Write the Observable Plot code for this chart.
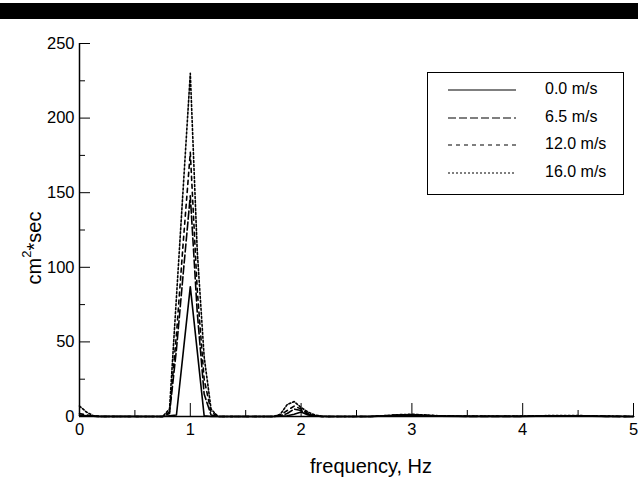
<!DOCTYPE html>
<html><head><meta charset="utf-8">
<script src="https://cdn.jsdelivr.net/npm/d3@7"></script>
<script src="https://cdn.jsdelivr.net/npm/@observablehq/plot@0.6"></script>
<style>
body{margin:0;background:#fff;}
#wrap{position:relative;width:638px;height:480px;overflow:hidden;font-family:"Liberation Sans",Arial,sans-serif;background:#fff;}
#bar{position:absolute;left:0;top:3px;width:638px;height:16px;background:#000;}
#legend{position:absolute;left:427px;top:72px;width:195px;height:121px;border:1.5px solid #000;background:#fff;}
.lrow{position:absolute;left:0;width:195px;height:20px;}
.lrow svg{position:absolute;left:20px;top:0;}
.lrow span{position:absolute;left:117px;top:0px;font-size:16px;color:#000;}
</style></head><body>
<div id="wrap"><div id="bar"></div></div>
<script>
// frequency, Hz
const freq = [0, 0.0625, 0.125, 0.1875, 0.75, 0.8125, 0.875, 0.9375, 1.0, 1.0625, 1.125, 1.1875, 1.25,
  1.75, 1.8125, 1.875, 1.9375, 2.0, 2.0625, 2.125, 2.1875, 2.25,
  2.625, 2.75, 2.875, 3.0, 3.125, 3.25, 3.5, 4.0, 4.25, 4.5, 4.75, 5.0];
// spectral density, cm^2*sec
const v00 = [0.5,0.3,0.2,0.1, 0,0.5,1,44,87,44,0.5,0,0, 0,0.2,0.5,1.5,3,1,0.3,0,0, 0,0.3,0.6,0.8,0.5,0.2,0,0,0.3,0.3,0,0];
const v65 = [1,0.5,0.2,0, 0,2,45,97,148,70,15,1,0, 0,0.5,2,5,4,1.5,0.5,0,0, 0,0.4,0.8,1,0.6,0.3,0.1,0.1,0.4,0.4,0.1,0];
const v12 = [2,1,0.3,0, 0,3,55,118,177,85,25,3,0, 0,1,4,7,5,2,0.6,0,0, 0,0.5,1,1.2,0.8,0.4,0.2,0.2,0.5,0.5,0.2,0];
const v16 = [7,3,0.5,0, 0,5,80,155,230,111,40,5,0, 0,1.5,8,10,6,3,1,0.2,0, 0,0.6,1.2,1.5,1,0.5,0.3,0.3,0.6,0.6,0.3,0];
const seriesNames = ["0.0 m/s", "6.5 m/s", "12.0 m/s", "16.0 m/s"];
const seriesValues = [v00, v65, v12, v16];
const dashes = ["none", "8,3", "4,4", "2,2"];
const xMajor = [0, 1, 2, 3, 4, 5];
const xMinor = [0.5, 1.5, 2.5, 3.5, 4.5];
const yMajor = [0, 50, 100, 150, 200, 250];
const yMinor = [25, 75, 125, 175, 225];

const rows = [];
seriesNames.forEach((s, i) => freq.forEach((f, j) => rows.push({f, v: seriesValues[i][j], s})));

const blank = () => "";
const intFmt = d3.format("d");
const plot = Plot.plot({
  width: 638, height: 480,
  marginLeft: 79, marginRight: 5, marginTop: 43, marginBottom: 64,
  style: {fontFamily: '"Liberation Sans", Arial, sans-serif', fontSize: "16px", color: "#000", background: "transparent", overflow: "visible"},
  x: {domain: [0, 5]},
  y: {domain: [0, 250]},
  marks: [
    Plot.axisX({ticks: xMajor, tickSize: -13, tickFormat: blank, label: null, stroke: "#000"}),
    Plot.axisX({ticks: xMinor, tickSize: -6, tickFormat: blank, label: null}),
    Plot.axisX({ticks: xMajor, tickSize: 0, tickPadding: 7, label: null, fontSize: 16.5, tickFormat: intFmt}),
    Plot.axisY({ticks: yMajor, tickSize: -11, tickFormat: blank, label: null}),
    Plot.axisY({ticks: yMinor, tickSize: -6, tickFormat: blank, label: null}),
    Plot.axisY({ticks: yMajor, tickSize: 0, tickPadding: 5, label: null, fontSize: 16.5, tickFormat: intFmt}),
    ...seriesNames.map((s, i) => Plot.line(rows.filter(d => d.s === s), {
      x: "f", y: "v", stroke: "#000", strokeWidth: 1.6, strokeDasharray: dashes[i]
    })),
    Plot.ruleY([0], {stroke: "#000", strokeWidth: 1.5}),
    Plot.ruleX([0], {stroke: "#000", strokeWidth: 1.5})
  ]
});
plot.style.position = "absolute";
plot.style.left = "0px";
plot.style.top = "0px";
const svg = d3.select(plot);
const yl = svg.append("text")
  .attr("transform", "translate(41,248) rotate(-90)")
  .attr("text-anchor", "middle")
  .attr("font-size", 20)
  .attr("fill", "#000");
yl.append("tspan").text("cm");
yl.append("tspan").attr("font-size", 13).attr("dy", -10).text("2");
yl.append("tspan").attr("dy", 10).text("*sec");
svg.append("text")
  .attr("x", 371).attr("y", 473)
  .attr("text-anchor", "middle")
  .attr("font-size", 20)
  .attr("fill", "#000")
  .text("frequency, Hz");

const wrap = document.getElementById("wrap");
wrap.insertBefore(plot, wrap.firstChild);

const legend = document.createElement("div");
legend.id = "legend";
const rowTops = [7, 35, 62, 90];
seriesNames.forEach((s, i) => {
  const r = document.createElement("div");
  r.className = "lrow";
  r.style.top = rowTops[i] + "px";
  const ls = d3.create("svg").attr("width", 70).attr("height", 20);
  ls.append("line").attr("x1", 0).attr("x2", 68).attr("y1", 10).attr("y2", 10)
    .attr("stroke", "#000").attr("stroke-width", 1.2)
    .attr("stroke-dasharray", dashes[i]);
  r.appendChild(ls.node());
  const t = document.createElement("span");
  t.textContent = s;
  r.appendChild(t);
  legend.appendChild(r);
});
wrap.appendChild(legend);
</script>
</body></html>
